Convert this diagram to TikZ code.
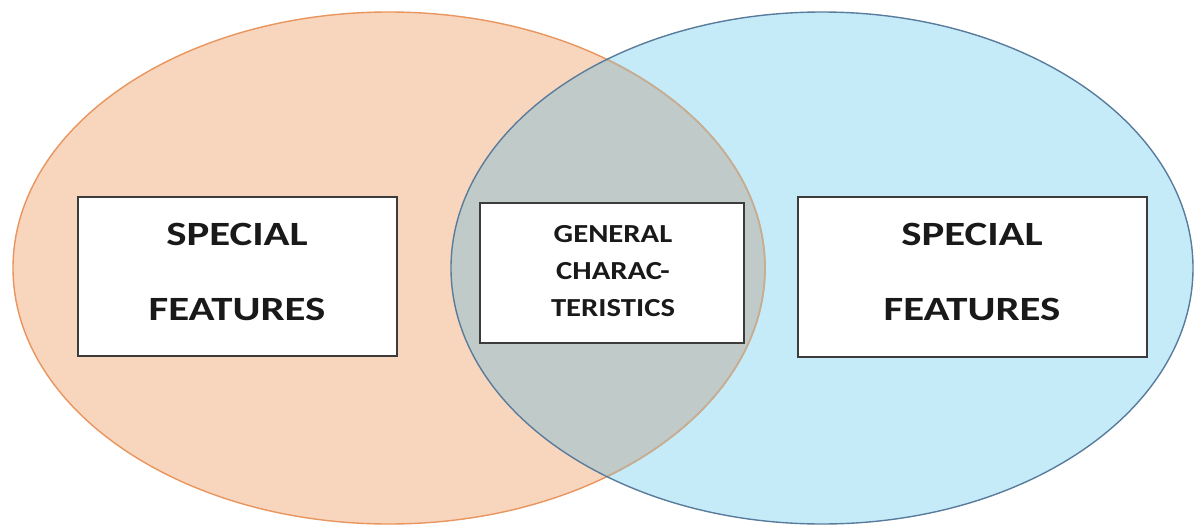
\documentclass[tikz,border=0pt]{standalone}
\usepackage{fontspec}
\newfontfamily\calwide[FakeStretch=1.26]{Carlito}
\newfontfamily\calmid[FakeStretch=1.18]{Carlito}
\definecolor{peach}{HTML}{F8D5BD}
\definecolor{peachline}{HTML}{E8955E}
\definecolor{skyfill}{HTML}{C5EAF8}
\definecolor{skyline}{HTML}{5A7C9C}
\definecolor{overlap}{HTML}{C0CAC8}
\definecolor{innerline}{HTML}{C4AE94}
\definecolor{boxline}{HTML}{3C3C3C}
\tikzset{
  featbox/.style={draw=boxline, line width=1.8pt, fill=white, inner sep=0pt},
  bigtxt/.style={anchor=base, inner sep=0pt, font=\calwide\bfseries\fontsize{34}{34}\selectfont, text=black!90},
  midtxt/.style={anchor=base, inner sep=0pt, font=\calmid\bfseries\fontsize{26}{26}\selectfont, text=black!90}
}
\begin{document}
\begin{tikzpicture}[x=1pt,y=-1pt]
\useasboundingbox (0,0) rectangle (1195,525);
% fills
\fill[peach] (389,268) ellipse [x radius=376pt, y radius=256pt];
\fill[skyfill] (822,268) ellipse [x radius=371pt, y radius=256pt];
\begin{scope}
  \clip (389,268) ellipse [x radius=376pt, y radius=256pt];
  \fill[overlap] (822,268) ellipse [x radius=371pt, y radius=256pt];
\end{scope}
% outlines
\draw[peachline, line width=1.4pt] (389,268) ellipse [x radius=376pt, y radius=256pt];
\begin{scope}
  \clip (822,268) ellipse [x radius=371pt, y radius=256pt];
  \draw[innerline, line width=1.6pt] (389,268) ellipse [x radius=376pt, y radius=256pt];
\end{scope}
\draw[skyline, line width=1.4pt] (822,268) ellipse [x radius=371pt, y radius=256pt];
% boxes
\node[featbox, minimum width=319pt, minimum height=159pt] (lbox) at (237.5,276.5) {};
\node[featbox, minimum width=264pt, minimum height=140pt] (mbox) at (612,273) {};
\node[featbox, minimum width=349pt, minimum height=160pt] (rbox) at (972.5,277) {};
% texts
\node[bigtxt] (l1) at (237,245) {SPECIAL};
\node[bigtxt] (l2) at (237,320) {FEATURES};
\node[bigtxt] (r1) at (972,245) {SPECIAL};
\node[bigtxt] (r2) at (972,320) {FEATURES};
\node[midtxt] (m1) at (613,242) {GENERAL};
\node[midtxt] (m2) at (613,279) {CHARAC-};
\node[midtxt] (m3) at (613,316) {TERISTICS};
\end{tikzpicture}
\end{document}
